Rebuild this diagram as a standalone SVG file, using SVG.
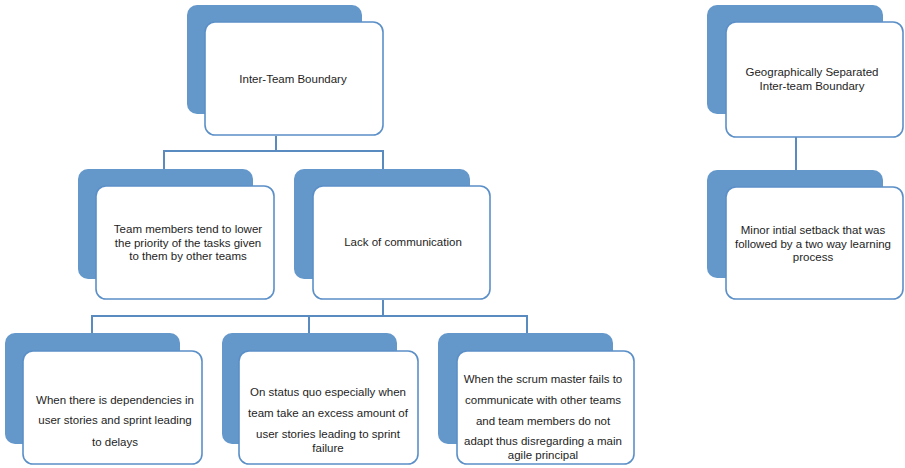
<svg xmlns="http://www.w3.org/2000/svg" width="905" height="468" viewBox="0 0 905 468">
  <style>
    .back { fill: #6498cb; }
    .front { fill: #ffffff; stroke: #5b8fc8; stroke-width: 1.6; }
    .link { fill: none; stroke: #5a8bc0; stroke-width: 2; }
    text { font-family: "Liberation Sans", Arial, sans-serif; font-size: 11.5px; fill: #1e1e1e; text-anchor: middle; }
  </style>
  <rect width="905" height="468" fill="#ffffff"/>

  <!-- connectors -->
  <g id="connectors">
    <path class="link" d="M276,136 V151 M164,170 V151 H383 V170"/>
    <path class="link" d="M383,300 V316 M92,333 V316 H527 V333 M309,316 V333"/>
    <path class="link" d="M796,137 V171"/>
  </g>

  <!-- top left -->
  <g id="inter-team">
    <rect class="back" x="187" y="5" width="175" height="109" rx="10"/>
    <rect class="front" x="205" y="22" width="178" height="113" rx="10"/>
    <text x="293" y="83">Inter-Team Boundary</text>
  </g>

  <g id="lower-priority">
    <rect class="back" x="78" y="169" width="175" height="110" rx="10"/>
    <rect class="front" x="96" y="186" width="178" height="113" rx="10"/>
    <text x="188" y="233">Team members tend to lower</text>
    <text x="188" y="246.5">the priority of the tasks given</text>
    <text x="188" y="260">to them by other teams</text>
  </g>

  <g id="lack-communication">
    <rect class="back" x="294" y="169" width="176" height="110" rx="10"/>
    <rect class="front" x="313" y="186" width="177" height="113" rx="10"/>
    <text x="403" y="246">Lack of communication</text>
  </g>

  <g id="dependencies">
    <rect class="back" x="5" y="333" width="175" height="111" rx="10"/>
    <rect class="front" x="23" y="351" width="179" height="113" rx="10"/>
    <text x="115" y="404">When there is dependencies in</text>
    <text x="115" y="424">user stories and sprint leading</text>
    <text x="115" y="446">to delays</text>
  </g>

  <g id="status-quo">
    <rect class="back" x="222" y="333" width="175" height="111" rx="10"/>
    <rect class="front" x="239" y="351" width="179" height="113" rx="10"/>
    <text x="328" y="396">On status quo especially when</text>
    <text x="328" y="417">team take an excess amount of</text>
    <text x="328" y="438">user stories leading to sprint</text>
    <text x="328" y="452">failure</text>
  </g>

  <g id="scrum-master">
    <rect class="back" x="438" y="333" width="175" height="111" rx="10"/>
    <rect class="front" x="457" y="351" width="177" height="113" rx="10"/>
    <text x="543" y="383">When the scrum master fails to</text>
    <text x="543" y="404">communicate with other teams</text>
    <text x="543" y="425">and team members do not</text>
    <text x="543" y="445">adapt thus disregarding a main</text>
    <text x="543" y="459">agile principal</text>
  </g>

  <!-- right column -->
  <g id="geo-separated">
    <rect class="back" x="707" y="5" width="176" height="109" rx="10"/>
    <rect class="front" x="726" y="22" width="177" height="115" rx="10"/>
    <text x="812" y="76">Geographically Separated</text>
    <text x="812" y="90">Inter-team Boundary</text>
  </g>

  <g id="minor-setback">
    <rect class="back" x="707" y="170" width="176" height="108" rx="10"/>
    <rect class="front" x="726" y="187" width="177" height="112" rx="10"/>
    <text x="813" y="234">Minor intial setback that was</text>
    <text x="813" y="247.5">followed by a two way learning</text>
    <text x="813" y="261">process</text>
  </g>
</svg>
